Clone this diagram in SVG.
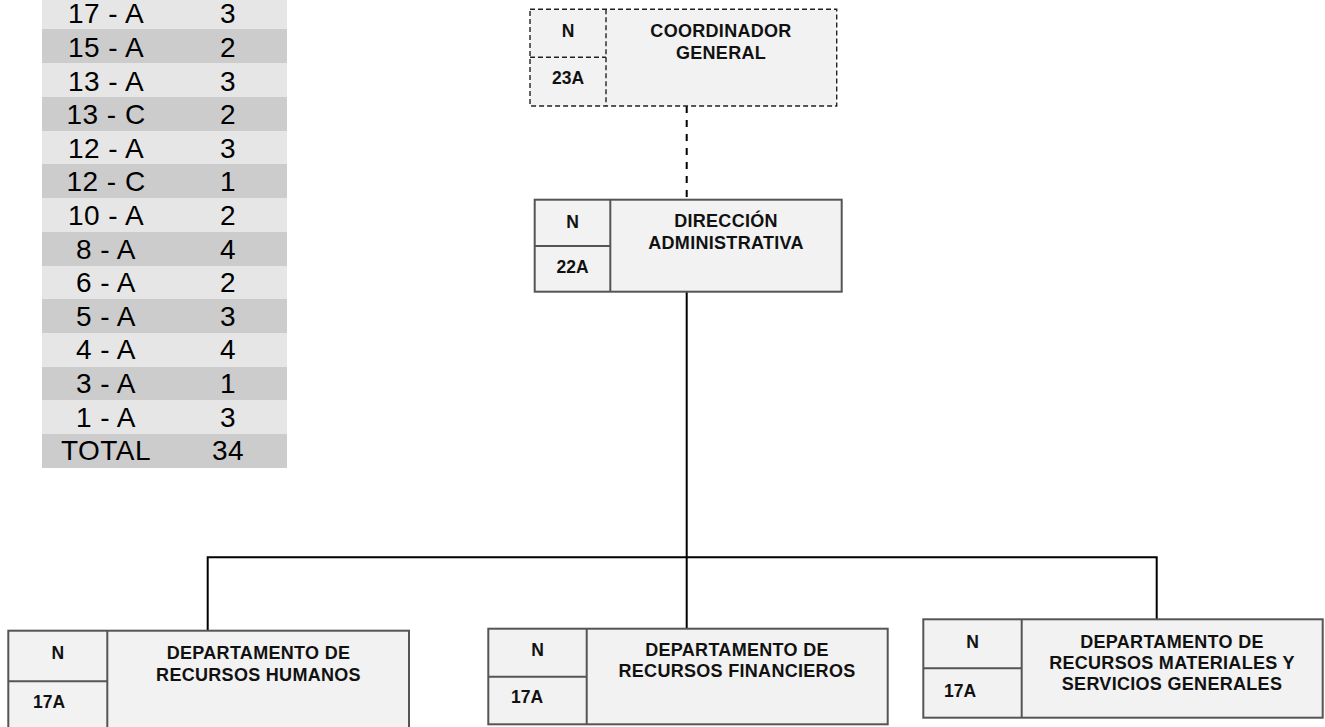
<svg xmlns="http://www.w3.org/2000/svg" width="1325" height="727" viewBox="0 0 1325 727">
  <style>
    .row-a { fill: #e6e6e6; }
    .row-b { fill: #cccccc; }
    .tbl { font-family: "Liberation Sans", Arial, sans-serif; font-size: 28px; fill: #000; text-anchor: middle; letter-spacing: 0.5px; }
    .box { fill: #f2f2f2; stroke: #555555; stroke-width: 2; }
    .box-dash { fill: #f2f2f2; stroke: #222222; stroke-width: 1.4; stroke-dasharray: 5 3; }
    .div { fill: none; stroke: #555555; stroke-width: 2; }
    .div-dash { fill: none; stroke: #222222; stroke-width: 1.4; stroke-dasharray: 5 3; }
    .lbl { font-family: "Liberation Sans", Arial, sans-serif; font-size: 18px; font-weight: bold; fill: #111; text-anchor: middle; letter-spacing: 0.3px; }
    .code { font-family: "Liberation Sans", Arial, sans-serif; font-size: 17.5px; font-weight: bold; fill: #111; text-anchor: middle; }
    .conn { fill: none; stroke: #000; stroke-width: 2; }
    .conn-dash { fill: none; stroke: #000; stroke-width: 2; stroke-dasharray: 7 7; }
  </style>

  <!-- level / count summary table -->
  <g id="tabla-niveles">
    <rect class="row-a" x="42" y="-5" width="245" height="34"/>
    <rect class="row-b" x="42" y="29" width="245" height="34"/>
    <rect class="row-a" x="42" y="63" width="245" height="34"/>
    <rect class="row-b" x="42" y="97" width="245" height="34"/>
    <rect class="row-a" x="42" y="131" width="245" height="33"/>
    <rect class="row-b" x="42" y="164" width="245" height="34"/>
    <rect class="row-a" x="42" y="198" width="245" height="34"/>
    <rect class="row-b" x="42" y="232" width="245" height="34"/>
    <rect class="row-a" x="42" y="266" width="245" height="33"/>
    <rect class="row-b" x="42" y="299" width="245" height="34"/>
    <rect class="row-a" x="42" y="333" width="245" height="34"/>
    <rect class="row-b" x="42" y="367" width="245" height="33"/>
    <rect class="row-a" x="42" y="400" width="245" height="34"/>
    <rect class="row-b" x="42" y="434" width="245" height="34"/>

    <text class="tbl" x="106" y="23.3">17 - A</text><text class="tbl" x="228" y="23.3">3</text>
    <text class="tbl" x="106" y="57">15 - A</text><text class="tbl" x="228" y="57">2</text>
    <text class="tbl" x="106" y="90.6">13 - A</text><text class="tbl" x="228" y="90.6">3</text>
    <text class="tbl" x="106" y="124.2">13 - C</text><text class="tbl" x="228" y="124.2">2</text>
    <text class="tbl" x="106" y="157.8">12 - A</text><text class="tbl" x="228" y="157.8">3</text>
    <text class="tbl" x="106" y="191.4">12 - C</text><text class="tbl" x="228" y="191.4">1</text>
    <text class="tbl" x="106" y="225">10 - A</text><text class="tbl" x="228" y="225">2</text>
    <text class="tbl" x="106" y="258.6">8 - A</text><text class="tbl" x="228" y="258.6">4</text>
    <text class="tbl" x="106" y="292.2">6 - A</text><text class="tbl" x="228" y="292.2">2</text>
    <text class="tbl" x="106" y="325.8">5 - A</text><text class="tbl" x="228" y="325.8">3</text>
    <text class="tbl" x="106" y="359.4">4 - A</text><text class="tbl" x="228" y="359.4">4</text>
    <text class="tbl" x="106" y="393">3 - A</text><text class="tbl" x="228" y="393">1</text>
    <text class="tbl" x="106" y="426.6">1 - A</text><text class="tbl" x="228" y="426.6">3</text>
    <text class="tbl" x="106" y="460.2">TOTAL</text><text class="tbl" x="228" y="460.2">34</text>
  </g>

  <!-- connectors -->
  <g id="conectores">
    <line class="conn-dash" x1="686.7" y1="106" x2="686.7" y2="200"/>
    <line class="conn" x1="686.7" y1="292" x2="686.7" y2="629"/>
    <polyline class="conn" points="207.7,631 207.7,557.3 1156.7,557.3 1156.7,620"/>
  </g>

  <!-- coordinador general (dashed) -->
  <g id="coordinador-general">
    <rect class="box-dash" x="530" y="9.3" width="306.7" height="96.7"/>
    <line class="div-dash" x1="606" y1="9.3" x2="606" y2="106"/>
    <line class="div-dash" x1="530" y1="57.3" x2="606" y2="57.3"/>
    <text class="code" x="568" y="37.3">N</text>
    <text class="code" x="568" y="84">23A</text>
    <text class="lbl" x="721" y="37.3">COORDINADOR</text>
    <text class="lbl" x="721" y="59.3">GENERAL</text>
  </g>

  <!-- direccion administrativa -->
  <g id="direccion-administrativa">
    <rect class="box" x="534.7" y="199.7" width="307" height="92"/>
    <line class="div" x1="610.3" y1="199.7" x2="610.3" y2="291.7"/>
    <line class="div" x1="534.7" y1="246" x2="610.3" y2="246"/>
    <text class="code" x="572.5" y="227.7">N</text>
    <text class="code" x="572.5" y="273.3">22A</text>
    <text class="lbl" x="726" y="226.7">DIRECCIÓN</text>
    <text class="lbl" x="726" y="249">ADMINISTRATIVA</text>
  </g>

  <!-- departamento de recursos humanos -->
  <g id="rec-humanos">
    <rect class="box" x="8.3" y="630.7" width="400.7" height="110"/>
    <line class="div" x1="107.3" y1="630.7" x2="107.3" y2="740"/>
    <line class="div" x1="8.3" y1="681.3" x2="107.3" y2="681.3"/>
    <text class="code" x="57.8" y="659.3">N</text>
    <text class="code" x="49" y="708.3">17A</text>
    <text class="lbl" x="258.5" y="659.3">DEPARTAMENTO DE</text>
    <text class="lbl" x="258.5" y="680.5">RECURSOS HUMANOS</text>
  </g>

  <!-- departamento de recursos financieros -->
  <g id="rec-financieros">
    <rect class="box" x="488.3" y="628.7" width="399.4" height="95.6"/>
    <line class="div" x1="586.7" y1="628.7" x2="586.7" y2="724.3"/>
    <line class="div" x1="488.3" y1="676.7" x2="586.7" y2="676.7"/>
    <text class="code" x="537.5" y="656">N</text>
    <text class="code" x="527" y="703.3">17A</text>
    <text class="lbl" x="737" y="656">DEPARTAMENTO DE</text>
    <text class="lbl" x="737" y="677">RECURSOS FINANCIEROS</text>
  </g>

  <!-- departamento de recursos materiales y servicios generales -->
  <g id="rec-materiales">
    <rect class="box" x="923.3" y="619.3" width="399.4" height="98.4"/>
    <line class="div" x1="1021.7" y1="619.3" x2="1021.7" y2="717.7"/>
    <line class="div" x1="923.3" y1="668.3" x2="1021.7" y2="668.3"/>
    <text class="code" x="972.5" y="647.7">N</text>
    <text class="code" x="960" y="696.7">17A</text>
    <text class="lbl" x="1172" y="647.7">DEPARTAMENTO DE</text>
    <text class="lbl" x="1172" y="668.7">RECURSOS MATERIALES Y</text>
    <text class="lbl" x="1172" y="689.7">SERVICIOS GENERALES</text>
  </g>
</svg>
